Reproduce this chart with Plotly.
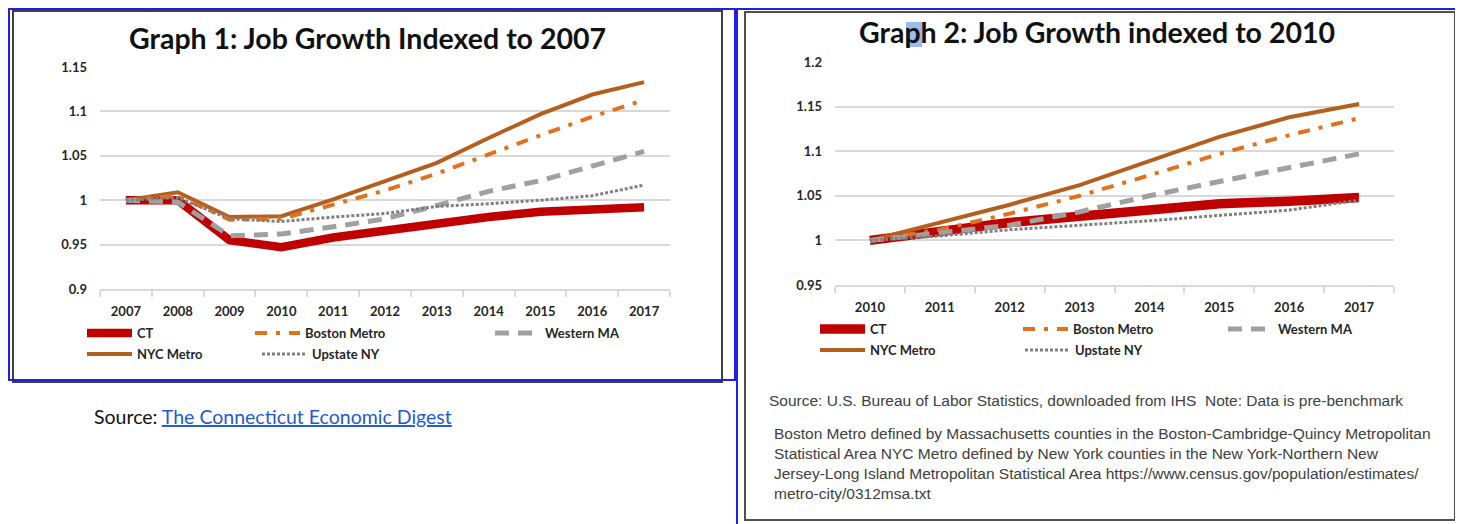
import plotly.graph_objects as go

# page is 1463x524, but the html body adds an 8px margin, so the figure is a bit smaller
OFF = 8
W, H = 1463 - OFF, 524 - OFF

# ---- data: graph 1 (indexed to 2007) ----
years_1 = ['2007', '2008', '2009', '2010', '2011', '2012', '2013', '2014', '2015', '2016', '2017']
ct_1 = [1.0, 1.0, 0.955, 0.947, 0.958, 0.966, 0.974, 0.981, 0.987, 0.989, 0.992]
boston_1 = [1.0, 1.005, 0.978, 0.979, 0.995, 1.011, 1.030, 1.052, 1.073, 1.094, 1.113]
western_1 = [1.0, 0.998, 0.960, 0.962, 0.970, 0.979, 0.994, 1.010, 1.022, 1.038, 1.055]
nyc_1 = [1.0, 1.009, 0.981, 0.982, 1.001, 1.022, 1.042, 1.070, 1.097, 1.119, 1.133]
upstate_1 = [1.0, 1.003, 0.979, 0.976, 0.981, 0.985, 0.993, 0.996, 1.000, 1.005, 1.017]

# ---- data: graph 2 (indexed to 2010) ----
years_2 = ['2010', '2011', '2012', '2013', '2014', '2015', '2016', '2017']
ct_2 = [1.0, 1.010, 1.020, 1.027, 1.033, 1.041, 1.044, 1.048]
boston_2 = [1.0, 1.012, 1.030, 1.050, 1.073, 1.097, 1.118, 1.137]
western_2 = [1.0, 1.008, 1.017, 1.032, 1.050, 1.066, 1.081, 1.097]
nyc_2 = [1.0, 1.020, 1.040, 1.062, 1.089, 1.116, 1.138, 1.153]
upstate_2 = [1.0, 1.005, 1.012, 1.017, 1.022, 1.028, 1.034, 1.045]

yticks_1 = [0.9, 0.95, 1.0, 1.05, 1.1, 1.15]
yticks_2 = [0.95, 1.0, 1.05, 1.1, 1.15, 1.2]


def px(x):
    # page pixel -> paper fraction
    return (x - OFF) / W


def py(y):
    return 1 - (y - OFF) / H


styles = {
    'CT': dict(color='#C00000', width=8.5, dash='solid'),
    'Boston Metro': dict(color='#E2711D', width=4, dash='12px,9px,4px,9px'),
    'Western MA': dict(color='#A0A0A0', width=5, dash='14px,9px'),
    'NYC Metro': dict(color='#B45F1E', width=4, dash='solid'),
    'Upstate NY': dict(color='#7F7F7F', width=3, dash='3px,2px'),
}

TXT = '#262626'
FONT = 'Lato'

fig = go.Figure()

series_1 = [('CT', ct_1), ('Boston Metro', boston_1), ('Western MA', western_1),
            ('NYC Metro', nyc_1), ('Upstate NY', upstate_1)]
series_2 = [('CT', ct_2), ('Boston Metro', boston_2), ('Western MA', western_2),
            ('NYC Metro', nyc_2), ('Upstate NY', upstate_2)]

# legend item positions (left edge px, middle y px) per chart
legend_pos_1 = {'CT': (82, 333), 'Boston Metro': (250, 333), 'Western MA': (490, 333),
                'NYC Metro': (82, 354), 'Upstate NY': (257, 354)}
legend_pos_2 = {'CT': (815, 329), 'Boston Metro': (1018, 329), 'Western MA': (1223, 329),
                'NYC Metro': (815, 350), 'Upstate NY': (1020, 350)}

legends = {}
n = 0
for chart, series, years, lpos in [(1, series_1, years_1, legend_pos_1),
                                   (2, series_2, years_2, legend_pos_2)]:
    order = ['CT', 'NYC Metro', 'Boston Metro', 'Western MA', 'Upstate NY']
    data = dict(series)
    for name in order:
        n += 1
        lname = 'legend' if n == 1 else f'legend{n}'
        st = styles[name]
        width = st['width'] + (1 if chart == 2 and name == 'CT' else 0)
        fig.add_trace(go.Scatter(
            x=years, y=data[name], name=name, mode='lines',
            line=dict(color=st['color'], width=width, dash=st['dash']),
            xaxis='x' if chart == 1 else 'x2', yaxis='y' if chart == 1 else 'y2',
            legend=lname, showlegend=True))
        lx, ly = lpos[name]
        legends[lname] = dict(x=px(lx), y=py(ly), xanchor='left', yanchor='middle',
                              bgcolor='rgba(0,0,0,0)', borderwidth=0, itemwidth=45,
                              font=dict(family=FONT, size=13, color=TXT, weight='bold'),
                              tracegroupgap=0)

axis_common = dict(showgrid=False, zeroline=False, showline=True, linecolor='#D9D9D9', linewidth=2,
                   ticks='outside', tickson='boundaries', ticklen=6, tickcolor='#D9D9D9', tickwidth=2,
                   type='category', automargin=False, ticklabelstandoff=9,
                   tickfont=dict(family=FONT, size=13, color=TXT, weight='bold'),
                   fixedrange=True)
yaxis_common = dict(showgrid=True, gridcolor='#D9D9D9', gridwidth=2, zeroline=False, showline=False,
                    ticks='', ticklabelstandoff=12, automargin=False,
                    tickfont=dict(family=FONT, size=13, color=TXT, weight='bold'), fixedrange=True)

fig.update_layout(
    width=W, height=H, autosize=False,
    margin=dict(l=0, r=0, t=0, b=0, autoexpand=False),
    paper_bgcolor='white', plot_bgcolor='white',
    xaxis=dict(axis_common, domain=[px(100), px(670)], anchor='y',
               range=[-0.5, len(years_1) - 0.5]),
    yaxis=dict(yaxis_common, domain=[py(289), py(67)], range=[0.9, 1.15], anchor='x',
               tickvals=yticks_1, ticktext=['0.9', '0.95', '1', '1.05', '1.1', '1.15']),
    xaxis2=dict(axis_common, domain=[px(835), px(1394)], anchor='y2',
                range=[-0.5, len(years_2) - 0.5]),
    yaxis2=dict(yaxis_common, domain=[py(285), py(62)], range=[0.95, 1.2], anchor='x2',
                tickvals=yticks_2, ticktext=['0.95', '1', '1.05', '1.1', '1.15', '1.2']),
    **legends,
)

shapes = [
    # chart 1 inner frame + blue selection frame
    dict(type='rect', x0=px(13), x1=px(722), y0=py(382), y1=py(11), line=dict(color='#404040', width=2)),
    dict(type='rect', x0=px(9), x1=px(735), y0=py(380), y1=py(9), line=dict(color='#1F1FE6', width=2)),
    # chart 2 inner frame + blue selection frame
    dict(type='rect', x0=px(745), x1=px(1455), y0=py(520), y1=py(12), line=dict(color='#505050', width=2)),
    dict(type='rect', x0=px(737), x1=px(1461), y0=py(540), y1=py(9), line=dict(color='#1F1FE6', width=2)),
    # highlighted letter in the title
    dict(type='rect', x0=px(906), x1=px(922), y0=py(47), y1=py(22), line=dict(width=0),
         fillcolor='rgba(120,165,225,0.75)', layer='below'),
]
for s in shapes:
    s.update(xref='paper', yref='paper')
fig.update_layout(shapes=shapes)

annotations = [
    dict(text='Graph 1: Job Growth Indexed to 2007', x=px(367), y=py(38),
         font=dict(family=FONT, size=28.5, color='#111111', weight='bold')),
    dict(text='Graph 2: Job Growth indexed to 2010', x=px(1097), y=py(32),
         font=dict(family=FONT, size=28.5, color='#111111', weight='bold')),
    dict(text="Source: <span style='color:#1F5BD0'><u>The Connecticut Economic Digest</u></span>",
         x=px(92), y=py(416), xanchor='left',
         font=dict(family=FONT, size=19.5, color='#111111')),
    dict(text='Source: U.S. Bureau of Labor Statistics, downloaded from IHS  Note: Data is pre-benchmark',
         x=px(767), y=py(400), xanchor='left',
         font=dict(family='Liberation Sans', size=15.5, color='#404040')),
    dict(text='Boston Metro defined by Massachusetts counties in the Boston-Cambridge-Quincy Metropolitan<br>'
              'Statistical Area NYC Metro defined by New York counties in the New York-Northern New<br>'
              'Jersey-Long Island Metropolitan Statistical Area https://www.census.gov/population/estimates/<br>'
              'metro-city/0312msa.txt',
         x=px(772), y=py(463), xanchor='left', align='left',
         font=dict(family='Liberation Sans', size=15.5, color='#404040')),
]
for a in annotations:
    a.setdefault('xanchor', 'center')
    a.update(xref='paper', yref='paper', yanchor='middle', showarrow=False)
fig.update_layout(annotations=annotations)

fig.write_html("out.html")
